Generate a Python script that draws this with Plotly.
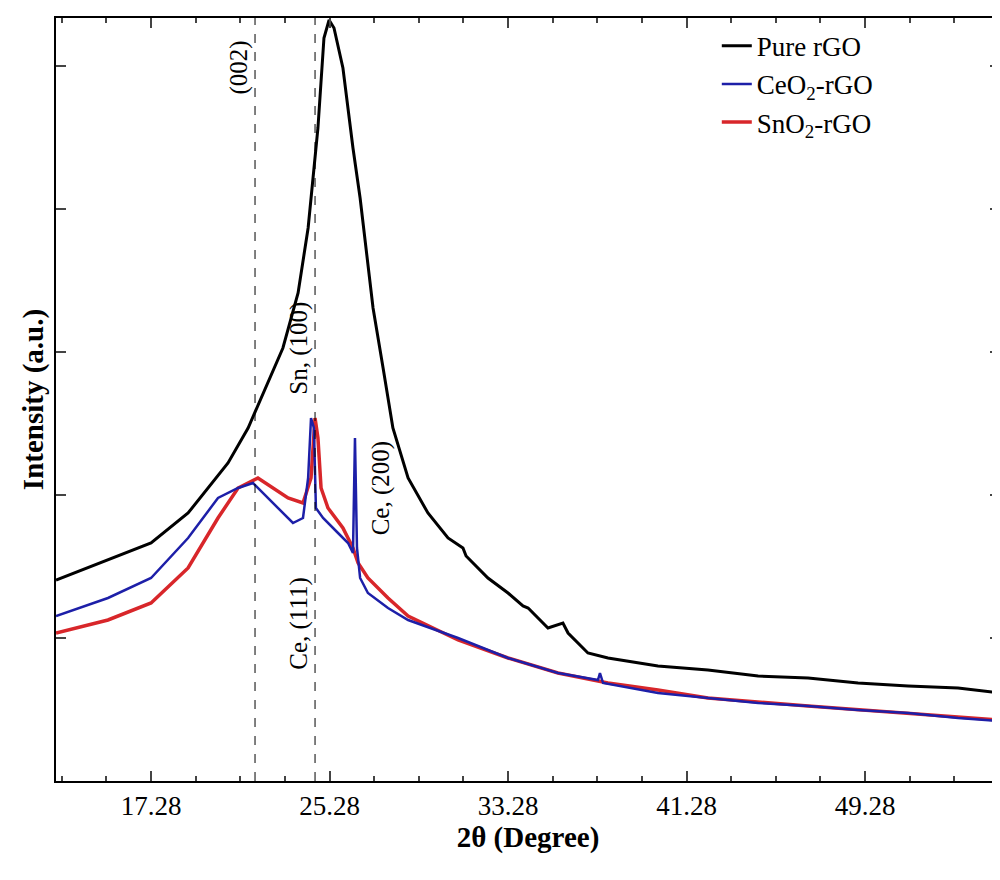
import plotly.graph_objects as go

# 2-theta (degree) and intensity (a.u.)
x_rgo = [13.02, 15.35, 17.28, 18.94, 20.73, 21.63, 22.52, 23.19, 23.87, 24.32, 24.76, 25.03,
         25.26, 25.48, 25.88, 26.33, 26.65, 26.78, 27.23, 27.68, 28.12, 28.80, 29.69, 30.59,
         31.26, 31.40, 32.38, 33.28, 33.95, 34.18, 35.07, 35.74, 35.97, 36.86, 37.76, 40.00,
         42.24, 44.49, 46.73, 48.97, 51.21, 53.45, 55.33]
y_rgo = [201, 221, 238, 268, 318, 353, 398, 433, 488, 553, 653, 743,
         761, 753, 713, 633, 583, 558, 473, 413, 353, 303, 268, 243,
         233, 225, 203, 188, 175, 173, 153, 158, 148, 128, 123, 115,
         111, 105, 103, 98, 95, 93, 88]

x_ceo2 = [13.02, 15.35, 17.28, 18.94, 20.28, 21.18, 21.85, 22.52, 23.19, 23.64, 24.09, 24.32,
          24.45, 24.58, 24.67, 24.99, 25.66, 26.11, 26.33, 26.42, 26.51, 26.65, 27.00, 27.90,
          28.80, 31.04, 33.28, 35.52, 37.31, 37.40, 37.54, 40.00, 42.24, 44.49, 46.73, 48.97,
          51.21, 53.45, 55.33]
y_ceo2 = [165, 183, 203, 243, 283, 293, 298, 283, 268, 258, 263, 303,
          363, 353, 273, 263, 248, 238, 228, 343, 233, 203, 188, 173,
          161, 143, 123, 108, 101, 108, 98, 88, 83, 78, 75, 71,
          68, 63, 60]

x_sno2 = [13.02, 15.35, 17.28, 18.94, 20.28, 21.18, 22.07, 22.75, 23.42, 24.09, 24.45, 24.63,
          24.76, 24.90, 25.21, 25.88, 26.33, 26.56, 27.00, 27.90, 28.80, 31.04, 33.28, 35.52,
          37.76, 40.00, 42.24, 46.73, 51.21, 55.33]
y_sno2 = [148, 161, 178, 213, 263, 293, 303, 293, 283, 278, 303, 363,
          343, 293, 273, 253, 233, 218, 203, 183, 165, 141, 123, 108,
          98, 91, 83, 75, 68, 61]

peak_lines = [21.94, 24.63]
labels = ["(002)", "Sn, (100)", "Ce, (111)", "Ce, (200)"]
label_x = [21.2, 23.9, 23.9, 27.6]
label_y = [713, 433, 158, 293]

font = "Liberation Serif"
fig = go.Figure()
fig.add_trace(go.Scatter(x=x_rgo, y=y_rgo, mode="lines", name="Pure rGO",
                         line=dict(color="black", width=3), legendrank=1))
fig.add_trace(go.Scatter(x=x_sno2, y=y_sno2, mode="lines", name="SnO<sub>2</sub>-rGO",
                         line=dict(color="#d8262a", width=3.5), legendrank=3))
fig.add_trace(go.Scatter(x=x_ceo2, y=y_ceo2, mode="lines", name="CeO<sub>2</sub>-rGO",
                         line=dict(color="#1d1fa8", width=2.5), legendrank=2))

for xv in peak_lines:
    fig.add_vline(x=xv, line=dict(color="black", width=1, dash="dash"))
for t, xv, yv in zip(labels, label_x, label_y):
    fig.add_annotation(x=xv, y=yv, text=t, textangle=-90, showarrow=False,
                       font=dict(family=font, size=25, color="black"))

axis_common = dict(showline=True, linecolor="black", linewidth=2, mirror="ticks",
                   ticks="inside", ticklen=10, tickwidth=1.5, showgrid=False, zeroline=False,
                   automargin=False,
                   minor=dict(ticks="inside", ticklen=5, tickwidth=1.5))
fig.update_xaxes(range=[13.02, 55.33], tick0=17.28, dtick=8,
                 tickfont=dict(family=font, size=27, color="black"),
                 title=dict(text="<b>2θ (Degree)</b>", font=dict(family=font, size=29, color="black"),
                            standoff=2),
                 **axis_common)
fig.update_yaxes(range=[0, 763], tick0=143, dtick=143, showticklabels=False,
                 title=dict(text="<b>Intensity (a.u.)</b>", font=dict(family=font, size=29, color="black"),
                            standoff=2),
                 **axis_common)
fig.update_layout(width=1000, height=880, plot_bgcolor="white", paper_bgcolor="white",
                  margin=dict(l=48, r=8, t=10, b=107),
                  legend=dict(x=0.70, y=0.995, xanchor="left", yanchor="top",
                              bgcolor="rgba(0,0,0,0)",
                              font=dict(family=font, size=27, color="black")))
fig.write_html("out.html")
